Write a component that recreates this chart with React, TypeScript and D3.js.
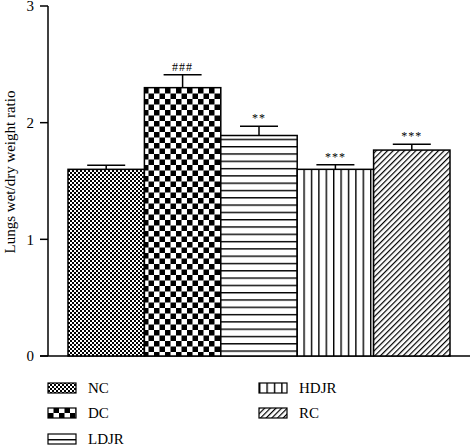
import React from "react";
import * as d3 from "d3";

const categories = ["NC", "DC", "LDJR", "HDJR", "RC"];
const means = [1.6, 2.3, 1.89, 1.6, 1.765];
const errors = [0.035, 0.11, 0.08, 0.04, 0.05];
const marks = ["", "###", "**", "***", "***"];
const yTicks = [0, 1, 2, 3];
const patternIds = ["pNC", "pDC", "pLDJR", "pHDJR", "pRC"];

const W = 470, H = 447;
const FONT = "'Liberation Serif', 'DejaVu Serif', serif";

export default function App() {
  const y = d3.scaleLinear().domain([0, 3]).range([356, 6]);
  const x = d3.scaleBand().domain(categories).range([68, 450]).padding(0);
  const bw = x.bandwidth();
  const legendPos = [
    { x: 48, y: 388 }, { x: 48, y: 413 }, { x: 48, y: 439 },
    { x: 259, y: 388 }, { x: 259, y: 413 },
  ];
  return (
    <svg width={W} height={H} style={{ position: "absolute", left: 0, top: 0, background: "#fff" }}>
      <defs>
        <pattern id="pNC" width={4} height={4} patternUnits="userSpaceOnUse">
          <rect width={4} height={4} fill="#000" />
          <rect x={0} y={0} width={2} height={2} fill="#fff" />
          <rect x={2} y={2} width={2} height={2} fill="#fff" />
        </pattern>
        <pattern id="pDC" width={11} height={11} patternUnits="userSpaceOnUse">
          <rect width={11} height={11} fill="#fff" />
          <rect x={0} y={0} width={5.5} height={5.5} fill="#000" />
          <rect x={5.5} y={5.5} width={5.5} height={5.5} fill="#000" />
        </pattern>
        <pattern id="pLDJR" width={8} height={7.3} patternUnits="userSpaceOnUse">
          <rect width={8} height={7.3} fill="#fff" />
          <line x1={0} x2={8} y1={0.7} y2={0.7} stroke="#000" strokeWidth={1.4} />
        </pattern>
        <pattern id="pHDJR" width={7.4} height={8} patternUnits="userSpaceOnUse">
          <rect width={7.4} height={8} fill="#fff" />
          <line x1={0.7} x2={0.7} y1={0} y2={8} stroke="#000" strokeWidth={1.4} />
        </pattern>
        <pattern id="pRC" width={4} height={4} patternUnits="userSpaceOnUse" patternTransform="rotate(45)">
          <rect width={4} height={4} fill="#fff" />
          <line x1={0.6} x2={0.6} y1={0} y2={4} stroke="#000" strokeWidth={1.2} />
        </pattern>
      </defs>

      {/* axes */}
      <line x1={48} x2={48} y1={y(3)} y2={y(0)} stroke="#000" strokeWidth={1.5} />
      <line x1={40} x2={470} y1={y(0)} y2={y(0)} stroke="#000" strokeWidth={1.5} />
      {yTicks.map((t) => (
        <g key={t}>
          <line x1={40} x2={48} y1={y(t)} y2={y(t)} stroke="#000" strokeWidth={1.5} />
          <text x={34} y={y(t)} dy="0.35em" textAnchor="end" fontFamily={FONT} fontSize={15}>{t}</text>
        </g>
      ))}
      <text transform={`translate(15,172) rotate(-90)`} textAnchor="middle" fontFamily={FONT} fontSize={15}>
        Lungs wet/dry weight ratio
      </text>

      {/* bars */}
      {categories.map((c, i) => {
        const x0 = x(c)!;
        const cx = x0 + bw / 2;
        const top = y(means[i]);
        const et = y(means[i] + errors[i]);
        return (
          <g key={c}>
            <line x1={cx} x2={cx} y1={top} y2={et} stroke="#000" strokeWidth={1.5} />
            <line x1={cx - 19} x2={cx + 19} y1={et} y2={et} stroke="#000" strokeWidth={1.5} />
            <rect x={x0} y={top} width={bw} height={y(0) - top} fill={`url(#${patternIds[i]})`} stroke="#000" strokeWidth={1.5} />
            {marks[i] && (
              <text x={cx} y={et - 4} textAnchor="middle" fontFamily={FONT} fontSize={12} letterSpacing={1}>{marks[i]}</text>
            )}
          </g>
        );
      })}

      {/* legend */}
      {categories.map((c, i) => (
        <g key={"lg" + c} transform={`translate(${legendPos[i].x},${legendPos[i].y})`}>
          <rect x={0} y={-5} width={28} height={10} fill={`url(#${patternIds[i]})`} stroke="#000" strokeWidth={1.2} />
          <text x={40} y={0} dy="0.35em" fontFamily={FONT} fontSize={15}>{c}</text>
        </g>
      ))}
    </svg>
  );
}
